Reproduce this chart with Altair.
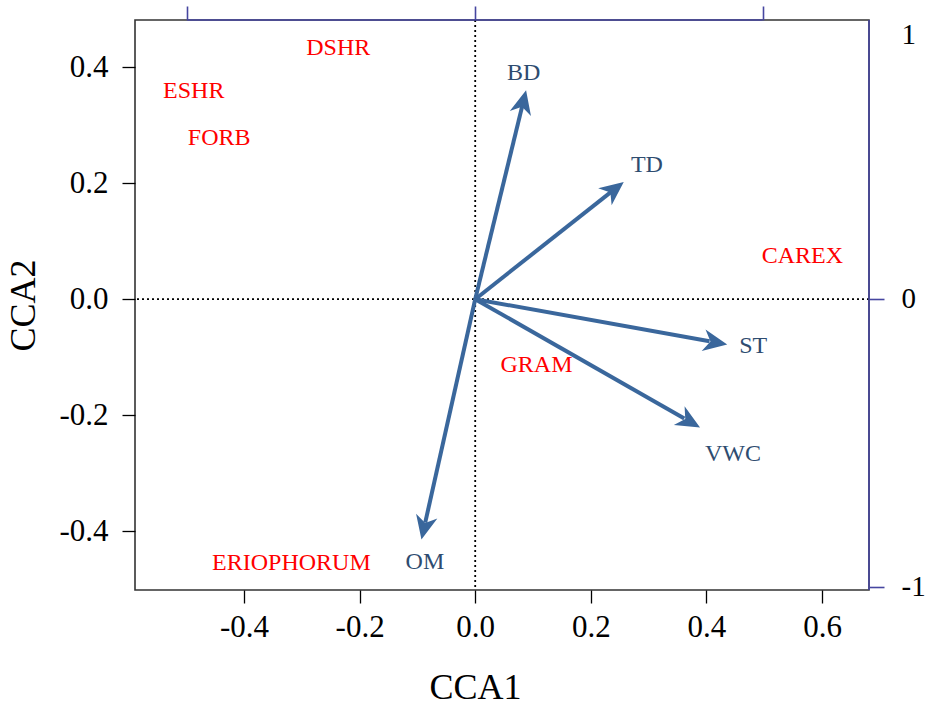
import altair as alt
import pandas as pd

# Species scores (CCA1, CCA2)
species = ["DSHR", "ESHR", "FORB", "CAREX", "GRAM", "ERIOPHORUM"]
sp_x = [-0.237, -0.487, -0.443, 0.566, 0.106, -0.318]
sp_y = [0.433, 0.359, 0.278, 0.074, -0.114, -0.455]

# Environmental vectors: arrow tips and label anchors
env_names = ["BD", "TD", "ST", "VWC", "OM"]
env_x = [0.088, 0.257, 0.436, 0.389, -0.093]
env_y = [0.360, 0.202, -0.078, -0.221, -0.414]
lab_x = [0.084, 0.297, 0.481, 0.446, -0.087]
lab_y = [0.390, 0.231, -0.081, -0.266, -0.453]

# Axis ticks
x_ticks = [-0.4, -0.2, 0.0, 0.2, 0.4, 0.6]
y_ticks = [-0.4, -0.2, 0.0, 0.2, 0.4]
top_ticks = [-1, 0, 1]
right_ticks = [-1, 0, 0.92]

FONT = "Liberation Serif"
BLUE = "#4646A0"
ARROW = "#3A679C"
ENV_TXT = "#2E4C70"
RED = "#FF0000"

W, H = 734, 570

sp = pd.DataFrame({"name": species, "x": sp_x, "y": sp_y})
env = pd.DataFrame({"name": env_names, "x": env_x, "y": env_y, "lx": lab_x, "ly": lab_y})
zero = pd.DataFrame({"v": [0.0]})

xs = alt.Scale(domain=[-0.5886, 0.6813], nice=False, zero=False)
ys = alt.Scale(domain=[-0.501, 0.481], nice=False, zero=False)

fmt = "replace(format(datum.value, '.1f'), '\u2212', '-')"

x_axis = alt.Axis(values=x_ticks, labelExpr=fmt, domain=False, grid=False,
                  tickSize=13, tickColor="black", tickWidth=1.3,
                  labelFont=FONT, labelFontSize=31, labelColor="black", labelPadding=9,
                  titleFont=FONT, titleFontSize=36, titleFontWeight="normal",
                  titleColor="black", titlePadding=28, titleX=340, titleAlign="center")
y_axis = alt.Axis(values=y_ticks, labelExpr=fmt, domain=False, grid=False,
                  tickSize=13, tickColor="black", tickWidth=1.3,
                  labelFont=FONT, labelFontSize=31, labelColor="black", labelPadding=14,
                  titleFont=FONT, titleFontSize=36, titleFontWeight="normal",
                  titleColor="black", titlePadding=16)


def X(field):
    return alt.X(field, type="quantitative", scale=xs, axis=x_axis, title="CCA1")


def Y(field):
    return alt.Y(field, type="quantitative", scale=ys, axis=y_axis, title="CCA2")


# Dotted reference lines through the origin
vline = alt.Chart(zero).mark_rule(color="black", strokeDash=[2, 3], strokeWidth=1.8).encode(x=X("v"))
hline = alt.Chart(zero).mark_rule(color="black", strokeDash=[2, 3], strokeWidth=1.8).encode(y=Y("v"))

# Arrow shafts (stop just short of the tip so the head stays sharp)
shafts = alt.Chart(env).transform_calculate(
    x0="0", y0="0", xe="datum.x * 0.93", ye="datum.y * 0.93"
).mark_rule(color=ARROW, strokeWidth=4).encode(
    x=X("x0"), y=Y("y0"), x2="xe:Q", y2="ye:Q"
)

# Arrow heads, rotated along each vector
head_path = "M0,0 L0.5,1.1 L0,0.78 L-0.5,1.1 Z"
heads = alt.Chart(env).transform_calculate(
    ang="(atan2(datum.x, datum.y) * 180 / PI + 360) % 360"
).mark_point(shape=head_path, filled=True, opacity=1, color=ARROW, size=1900).encode(
    x=X("x"), y=Y("y"), angle=alt.Angle("ang:Q", scale=None)
)

env_text = alt.Chart(env).mark_text(font=FONT, fontSize=24, color=ENV_TXT).encode(
    x=X("lx"), y=Y("ly"), text="name:N"
)

sp_text = alt.Chart(sp).mark_text(font=FONT, fontSize=24, color=RED).encode(
    x=X("x"), y=Y("y"), text="name:N"
)

main = alt.layer(vline, hline, shafts, heads, env_text, sp_text)

# Secondary axes for the biplot vectors (top and right)
top_df = pd.DataFrame({"a": [-1.0], "b": [1.0]})
top = alt.Chart(top_df).mark_rule(color=BLUE, strokeWidth=1.6).encode(
    x=alt.X("a:Q", scale=alt.Scale(domain=[-1.1826, 1.3704], nice=False, zero=False),
            axis=alt.Axis(orient="top", values=top_ticks, labels=False, domain=False,
                          grid=False, tickSize=14, tickColor=BLUE, tickWidth=1.6),
            title=None),
    x2="b:Q",
    y=alt.value(0),
)

right_df = pd.DataFrame({"lo": [-1.012], "hi": [0.970]})
right = alt.Chart(right_df).mark_rule(color=BLUE, strokeWidth=1.6).encode(
    y=alt.Y("lo:Q", scale=alt.Scale(domain=[-1.012, 0.970], nice=False, zero=False),
            axis=alt.Axis(orient="right", values=right_ticks, domain=False, grid=False,
                          labelExpr="datum.value > 0.5 ? '1' : replace(format(datum.value, 'd'), '\u2212', '-')",
                          tickSize=15, tickColor=BLUE, tickWidth=1.6,
                          tickOpacity={"condition": {"test": "datum.value > 0.5", "value": 0}, "value": 1},
                          labelFont=FONT, labelFontSize=29, labelColor="black", labelPadding=17),
            title=None),
    y2="hi:Q",
    x=alt.value(W),
)

chart = alt.layer(main, top, right).resolve_scale(
    x="independent", y="independent"
).properties(
    width=W, height=H,
    autosize=alt.AutoSizeParams(type="none"),
    padding={"left": 135, "top": 20, "right": 58, "bottom": 119},
    background="white",
).configure_view(stroke="#333333", strokeWidth=1.6)

chart.save("out.html", embed_options={"renderer": "svg", "actions": False})
